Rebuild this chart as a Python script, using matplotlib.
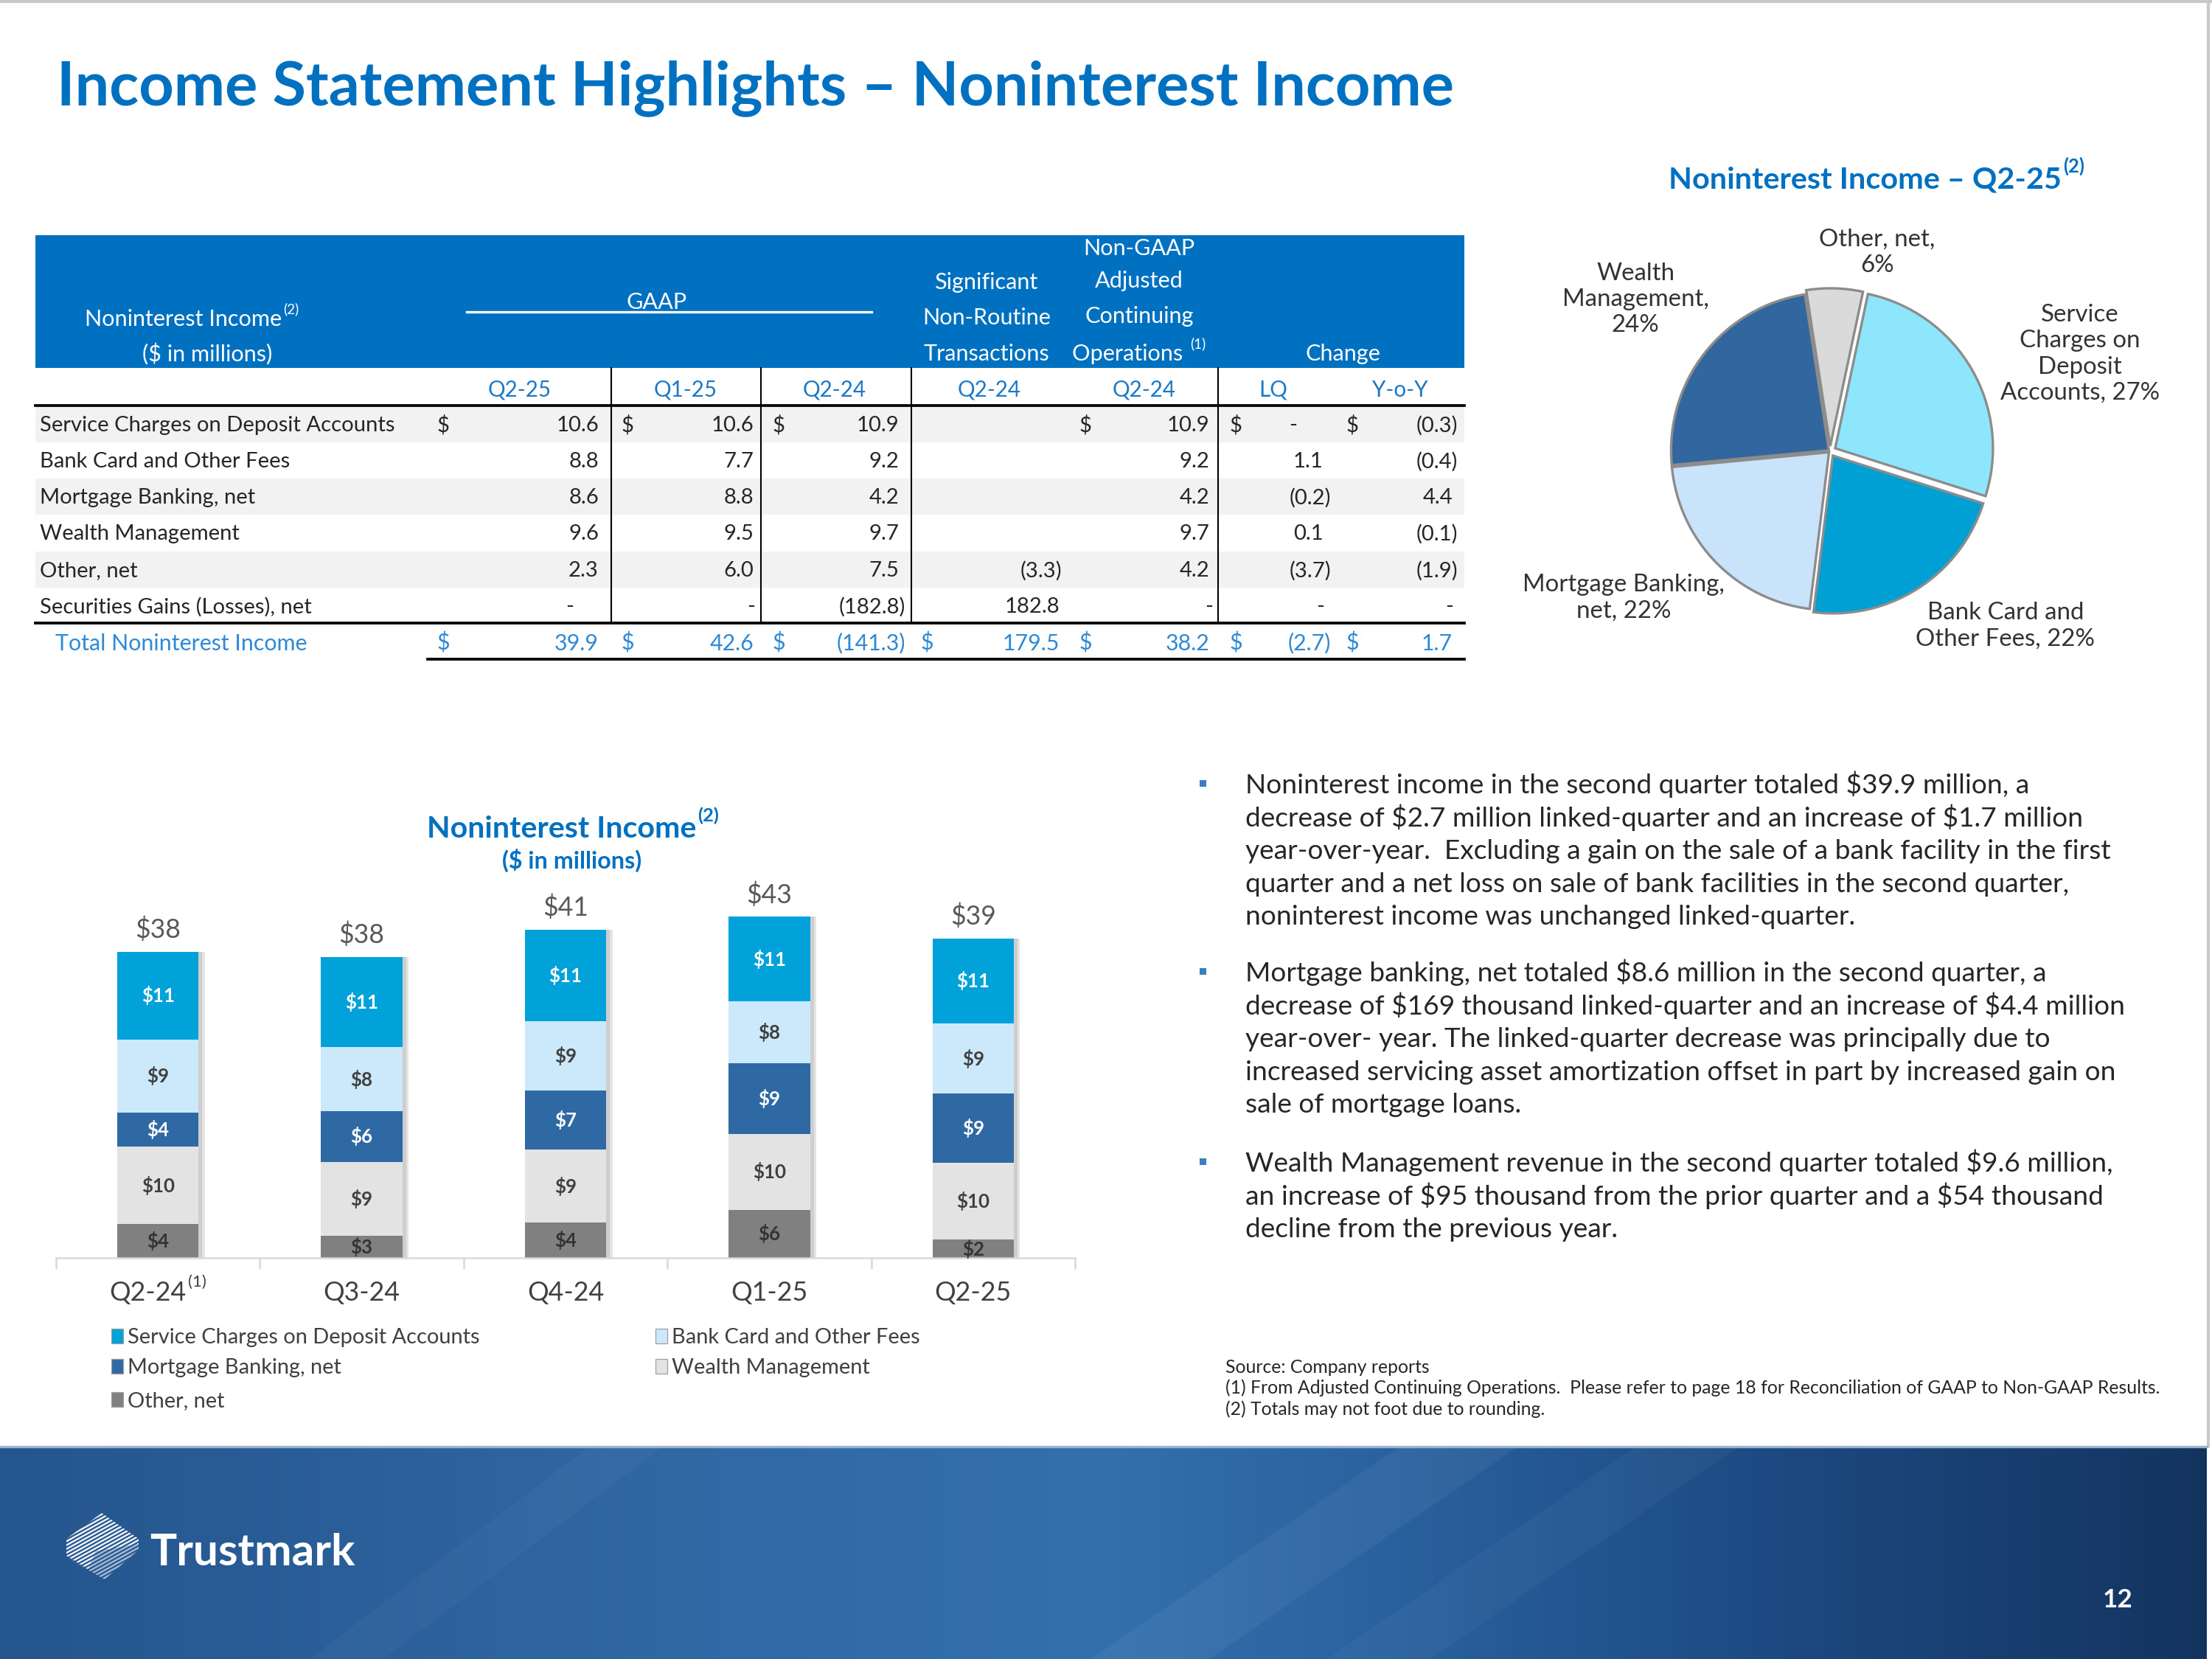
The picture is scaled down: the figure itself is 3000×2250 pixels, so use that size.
import numpy as np
import matplotlib
matplotlib.use("Agg")
import matplotlib.pyplot as plt
from matplotlib.patches import Rectangle, Polygon

plt.rcParams["font.family"] = ["Lato", "DejaVu Sans"]
plt.rcParams["text.parse_math"] = False

# ---------------- data ----------------
table_rows = ["Service Charges on Deposit Accounts", "Bank Card and Other Fees",
              "Mortgage Banking, net", "Wealth Management", "Other, net",
              "Securities Gains (Losses), net"]
gaap_q2_25 = [10.6, 8.8, 8.6, 9.6, 2.3, 0.0]
gaap_q1_25 = [10.6, 7.7, 8.8, 9.5, 6.0, 0.0]
gaap_q2_24 = [10.9, 9.2, 4.2, 9.7, 7.5, -182.8]
nonroutine_q2_24 = [None, None, None, None, -3.3, 182.8]
adjusted_q2_24 = [10.9, 9.2, 4.2, 9.7, 4.2, 0.0]
change_lq = [0.0, 1.1, -0.2, 0.1, -3.7, 0.0]
change_yoy = [-0.3, -0.4, 4.4, -0.1, -1.9, 0.0]
table_totals = [39.9, 42.6, -141.3, 179.5, 38.2, -2.7, 1.7]
table_col_heads = ["Q2-25", "Q1-25", "Q2-24", "Q2-24", "Q2-24", "LQ", "Y-o-Y"]

pie_templates = ["Service\nCharges on\nDeposit\nAccounts, {}%", "Bank Card and\nOther Fees, {}%",
                 "Mortgage Banking,\nnet, {}%", "Wealth\nManagement,\n{}%", "Other, net,\n{}%"]
pie_values = [10.6, 8.8, 8.6, 9.6, 2.3]

bar_quarters = ["Q2-24", "Q3-24", "Q4-24", "Q1-25", "Q2-25"]
bar_service = [10.9, 11.3, 11.4, 10.6, 10.6]
bar_bankcard = [9.2, 8.0, 8.7, 7.7, 8.8]
bar_mortgage = [4.2, 6.3, 7.4, 8.8, 8.6]
bar_wealth = [9.7, 9.2, 9.1, 9.5, 9.6]
bar_other = [4.2, 2.8, 4.4, 6.0, 2.3]
bar_total_labels = [38, 38, 41, 43, 39]
bar_series_names = ["Service Charges on Deposit Accounts", "Bank Card and Other Fees",
                    "Mortgage Banking, net", "Wealth Management", "Other, net"]

bullets = [
    ["Noninterest income in the second quarter totaled $39.9 million, a",
     "decrease of $2.7 million linked-quarter and an increase of $1.7 million",
     "year-over-year.  Excluding a gain on the sale of a bank facility in the first",
     "quarter and a net loss on sale of bank facilities in the second quarter,",
     "noninterest income was unchanged linked-quarter."],
    ["Mortgage banking, net totaled $8.6 million in the second quarter, a",
     "decrease of $169 thousand linked-quarter and an increase of $4.4 million",
     "year-over- year. The linked-quarter decrease was principally due to",
     "increased servicing asset amortization offset in part by increased gain on",
     "sale of mortgage loans."],
    ["Wealth Management revenue in the second quarter totaled $9.6 million,",
     "an increase of $95 thousand from the prior quarter and a $54 thousand",
     "decline from the previous year."],
]
footnotes = ["Source: Company reports",
             "(1) From Adjusted Continuing Operations.  Please refer to page 18 for Reconciliation of GAAP to Non-GAAP Results.",
             "(2) Totals may not foot due to rounding."]

# ---------------- figure ----------------
W, H = 3000, 2250
PX = 300 / 72.0
fig = plt.figure(figsize=(10, 7.5), dpi=300)
fig.patch.set_facecolor("white")
bg = fig.add_axes([0, 0, 1, 1], zorder=0)
bg.set_xlim(0, W); bg.set_ylim(H, 0); bg.axis("off")
RND = fig.canvas.get_renderer()

BLUE = "#0070C0"
DARK = "#262626"


def width(s, size, weight="normal"):
    t = bg.text(0, 0, s, fontsize=size, fontweight=weight)
    w = t.get_window_extent(RND).width
    t.remove()
    return w


def fit(s, target, weight="normal"):
    return 10.0 * target / width(s, 10, weight)


def putc(x, yc, s, size, ha="left", color=DARK, weight="normal", **kw):
    return bg.text(x, yc + 0.358 * size * PX, s, fontsize=size, ha=ha, va="baseline",
                   color=color, fontweight=weight, **kw)


def put_sup(x, yc, s, sup, size, ha="left", color=DARK, weight="normal", sscale=0.62):
    w1 = width(s, size, weight)
    w2 = width(sup, size * sscale, weight)
    tot = w1 + w2 + 2
    x0 = x if ha == "left" else (x - tot / 2 if ha == "center" else x - tot)
    putc(x0, yc, s, size, "left", color, weight)
    putc(x0 + w1 + 2, yc - 0.40 * size * PX, sup, size * sscale, "left", color, weight)


# slide border
bg.plot([0, W], [2, 2], color="#C8C8C8", lw=1.0)
bg.plot([2995, 2995], [0, 1961], color="#C8C8C8", lw=1.0)

# ---------------- title ----------------
title = "Income Statement Highlights \u2013 Noninterest Income"
fs_title = fit(title, 1898, "bold")
bg.text(77, 142, title, fontsize=fs_title, fontweight="bold", color=BLUE, va="baseline")

# ---------------- table ----------------
bg.add_patch(Rectangle((48, 319), 1938, 180, facecolor=BLUE, edgecolor="none"))
ROW_Y = [575, 624, 673, 722, 772, 821]
TOT_Y = 871
for i in (0, 2, 4):
    bg.add_patch(Rectangle((48, ROW_Y[i] - 24.5), 1938, 49, facecolor="#F2F2F2", edgecolor="none"))

fs_hd = fit("Transactions", 171)
put_sup(115, 431, "Noninterest Income", "(2)", fs_hd, "left", "white")
putc(281, 479, "($ in millions)", fs_hd, "center", "white")
putc(891, 408, "GAAP", fs_hd, "center", "white")
bg.plot([633, 1182], [423, 423], color="white", lw=0.8)
for txt, yy in zip(["Significant", "Non-Routine", "Transactions"], [381, 429, 478]):
    putc(1338, yy, txt, fs_hd, "center", "white")
for txt, yy in zip(["Non-GAAP", "Adjusted", "Continuing"], [335, 379, 427]):
    putc(1545, yy, txt, fs_hd, "center", "white")
put_sup(1545, 478, "Operations ", "(1)", fs_hd, "center", "white")
putc(1821, 478, "Change", fs_hd, "center", "white")

SUBBLUE = "#1A78C8"
fs_sub = fit("Q2-25", 86)
for txt, xc in zip(table_col_heads, [705, 930, 1132, 1342, 1552, 1727, 1899]):
    putc(xc, 527, txt, fs_sub, "center", SUBBLUE)

fs_data = fit("Service Charges on Deposit Accounts", 482)
cols_dollar = [601, 851, 1056, 1257, 1472, 1676, 1834]
cols_right = [822, 1032, 1228, 1440, 1648, 1805, 1977]
pos_shift = [10, 10, 9, 3, 8, 10, 7]
dash_off = [49, 13, 13, 13, 8, 14, 11]
data_cols = [gaap_q2_25, gaap_q1_25, gaap_q2_24, nonroutine_q2_24, adjusted_q2_24,
             change_lq, change_yoy]


def cell(ci, yc, v, color, size, first_row=False):
    rr = cols_right[ci]
    if v is None:
        return
    if v == 0:
        xd = rr - (51 if (first_row and ci == 5) else dash_off[ci])
        putc(xd, yc, "-", size, "center", color)
    elif v < 0:
        putc(rr, yc, "({:.1f})".format(-v), size, "right", color)
    else:
        putc(rr - pos_shift[ci], yc, "{:.1f}".format(v), size, "right", color)


for r, name in enumerate(table_rows):
    yc = ROW_Y[r]
    putc(54, yc, name, fs_data, "left", DARK)
    for ci, col in enumerate(data_cols):
        cell(ci, yc, col[r], DARK, fs_data, first_row=(r == 0))
        if r == 0 and ci != 3:
            putc(cols_dollar[ci], yc, "$", fs_data, "center", DARK)

TOTBLUE = "#2E89D6"
fs_tot = fit("Total Noninterest Income", 341)
putc(75, TOT_Y, "Total Noninterest Income", fs_tot, "left", TOTBLUE)
for ci, v in enumerate(table_totals):
    putc(cols_dollar[ci], TOT_Y, "$", fs_tot, "center", TOTBLUE)
    cell(ci, TOT_Y, v, TOTBLUE, fs_tot)

bg.plot([48, 1986], [550, 550], color="black", lw=0.9)
bg.plot([48, 1986], [845, 845], color="black", lw=0.9)
bg.plot([580, 1986], [894, 894], color="black", lw=0.9)
for xv in [829, 1032, 1236, 1652]:
    bg.plot([xv, xv], [499, 845], color="black", lw=0.5)

# ---------------- pie ----------------
fs_pt = fit("Noninterest Income \u2013 Q2-25", 533, "bold")
put_sup(2263, 241, "Noninterest Income \u2013 Q2-25", "(2)", fs_pt, "left", BLUE, "bold")

pc = (2482, 612)
half = 300
axp = fig.add_axes([(pc[0] - half) / W, (H - pc[1] - half) / H, 2 * half / W, 2 * half / H], zorder=2)
pie_colors = ["#8EE6FD", "#00A0D4", "#C9E4FA", "#31679E", "#DADADA"]
axp.pie(pie_values, colors=pie_colors, startangle=78, counterclock=False, radius=1.07,
        explode=[0.04, 0.035, 0.01, 0.01, 0.035],
        wedgeprops=dict(edgecolor="#8C8C8C", linewidth=0.8))
axp.set_xlim(-1.5, 1.5); axp.set_ylim(-1.5, 1.5)
axp.axis("off")

tot_pie = sum(pie_values)
pcts = [int(np.floor(v / tot_pie * 100 + 0.5)) for v in pie_values]
fs_pl = fit("Accounts, 27%", 216)
pie_label_pos = [(2821, 480), (2720, 849), (2202, 811), (2218, 406), (2546, 342)]
for tpl, p, (lx, ly) in zip(pie_templates, pcts, pie_label_pos):
    bg.text(lx, ly, tpl.format(p), fontsize=fs_pl, ha="center", va="center",
            color="#333333", linespacing=1.22, multialignment="center")

# ---------------- stacked bars ----------------
fs_bt = fit("Noninterest Income", 365, "bold")
put_sup(777, 1121, "Noninterest Income", "(2)", fs_bt, "center", BLUE, "bold")
fs_bt2 = fit("($ in millions)", 190, "bold")
putc(776, 1166, "($ in millions)", fs_bt2, "center", BLUE, "bold")

x_left, x_right = 76, 1458
base_y = 1706
px_unit = 10.86
ymax = 50
axb = fig.add_axes([x_left / W, (H - base_y) / H, (x_right - x_left) / W, ymax * px_unit / H], zorder=2)
axb.patch.set_alpha(0)
xs = np.arange(len(bar_quarters))
bw = 0.40
stack = [(bar_other, "#808080", "#333333"), (bar_wealth, "#E3E3E3", "#404040"),
         (bar_mortgage, "#2F69A3", "white"), (bar_bankcard, "#CCE8FB", "#404040"),
         (bar_service, "#00A2D9", "white")]
totals = np.sum([np.array(s[0]) for s in stack], axis=0)
axb.bar(xs + 0.03, totals, width=bw, color="#6E6E6E", alpha=0.18, zorder=1)
axb.bar(xs + 0.018, totals, width=bw, color="#6E6E6E", alpha=0.18, zorder=1)
fs_seg = fit("$11", 45, "bold")
bottom = np.zeros(len(xs))
for vals, col, tcol in stack:
    vals = np.array(vals)
    axb.bar(xs, vals, width=bw, bottom=bottom, color=col, edgecolor="none", zorder=2)
    for i in range(len(xs)):
        axb.text(xs[i], bottom[i] + vals[i] / 2, "$" + str(int(np.floor(vals[i] + 0.5))),
                 ha="center", va="center", fontsize=fs_seg, fontweight="bold", color=tcol, zorder=3)
    bottom += vals
fs_tl = fit("$38", 62)
for i in range(len(xs)):
    axb.text(xs[i], totals[i] + 30 / px_unit, "$" + str(bar_total_labels[i]), ha="center",
             va="center", fontsize=fs_tl, color="#595959", zorder=3)
axb.set_xlim(-0.5, len(xs) - 0.5)
axb.set_ylim(0, ymax)
for sp in ("top", "right", "left"):
    axb.spines[sp].set_visible(False)
axb.spines["bottom"].set_color("#D9D9D9")
axb.spines["bottom"].set_linewidth(0.6)
axb.set_yticks([])
axb.set_xticks(xs)
axb.set_xticklabels([])
axb.tick_params(axis="x", which="major", length=0)
axb.set_xticks(np.arange(-0.5, len(xs), 1.0), minor=True)
axb.tick_params(axis="x", which="minor", length=3.5, width=0.6, color="#D9D9D9")

fs_cat = fit("Q3-24", 104)
for i, q in enumerate(bar_quarters):
    xd = axb.transData.transform((xs[i], 0))[0]
    if i == 0:
        put_sup(xd, 1751, q, "(1)", fs_cat, "center", "#404040")
    else:
        putc(xd, 1751, q, fs_cat, "center", "#404040")

# legend (row-major, two columns)
fs_leg = fit("Service Charges on Deposit Accounts", 477)
leg_cols = ["#00A2D9", "#CCE8FB", "#2F69A3", "#E3E3E3", "#808080"]
leg_pos = [(151, 1812), (889, 1812), (151, 1853), (889, 1853), (151, 1898)]
for name, col, (lx, ly) in zip(bar_series_names, leg_cols, leg_pos):
    bg.add_patch(Rectangle((lx, ly - 10), 16, 20, facecolor=col, edgecolor="#A0A0A0", lw=0.3))
    putc(lx + 22, ly, name, fs_leg, "left", "#404040")

# ---------------- bullets ----------------
fs_b = fit(bullets[0][0], 1063)
group_y = [1063, 1318, 1576]
line_h = 44.5
for g, lines in enumerate(bullets):
    y0 = group_y[g]
    bg.add_patch(Rectangle((1627, y0 - 5), 9, 9, facecolor="#3C7DC4", edgecolor="none"))
    for k, ln in enumerate(lines):
        putc(1689, y0 + k * line_h, ln, fs_b, "left", DARK)

# ---------------- footnotes ----------------
fs_f = fit(footnotes[1], 1270)
for k, ln in enumerate(footnotes):
    putc(1662, 1853 + k * 28.5, ln, fs_f, "left", DARK)

# ---------------- footer band ----------------
gx = np.linspace(0, 1, 600)
stops_x = [0.0, 0.3, 0.5, 0.62, 0.8, 1.0]
stops_c = np.array([[0x25, 0x55, 0x8D], [0x30, 0x68, 0xA4], [0x33, 0x70, 0xAD],
                    [0x2A, 0x63, 0xA0], [0x1D, 0x4A, 0x82], [0x14, 0x34, 0x60]]) / 255.0
row = np.stack([np.interp(gx, stops_x, stops_c[:, k]) for k in range(3)], axis=-1)
img = np.repeat(row[None, :, :], 40, axis=0)
bg.imshow(img, extent=(0, 2993, 2250, 1961), aspect="auto", interpolation="bilinear", zorder=0)
for pts, al in [([(1480, 2250), (1640, 2250), (2060, 1961), (1900, 1961)], 0.05),
                ([(1800, 2250), (1940, 2250), (2360, 1961), (2220, 1961)], 0.035),
                ([(420, 2250), (520, 2250), (900, 1961), (800, 1961)], 0.03)]:
    bg.add_patch(Polygon(pts, closed=True, facecolor="white", edgecolor="none", alpha=al, zorder=1))
bg.plot([0, 2993], [1962, 1962], color="#9DB2CC", lw=0.8, zorder=2)

# logo: striped hexagon
logo_top = Polygon([(138, 2052), (188, 2087), (188, 2094), (130, 2104), (120, 2128), (90, 2110), (90, 2087)],
                   closed=True, facecolor="none", edgecolor="none")
logo_bot = Polygon([(188, 2094), (188, 2102), (142, 2142), (90, 2112), (120, 2128), (130, 2104)],
                   closed=True, facecolor="none", edgecolor="none")
bg.add_patch(logo_top); bg.add_patch(logo_bot)
for off in np.arange(-60, 160, 5.2):
    xa, xb = 80, 200
    ya = 2140 - off
    yb = ya - (xb - xa) * 0.55
    for clip, al in ((logo_top, 0.95), (logo_bot, 0.6)):
        ln, = bg.plot([xa, xb], [ya, yb], color="white", lw=0.55, alpha=al, zorder=3,
                      solid_capstyle="butt")
        ln.set_clip_path(clip)
bg.set_xlim(0, W); bg.set_ylim(H, 0)

fs_tm = fit("Trustmark", 278, "bold")
bg.text(203, 2123, "Trustmark", fontsize=fs_tm, fontweight="bold", color="white", va="baseline", zorder=3)
putc(2872, 2167, "12", 8.4, "center", "white", "bold", zorder=3)

fig.savefig("out.png", dpi=300, facecolor="white")
